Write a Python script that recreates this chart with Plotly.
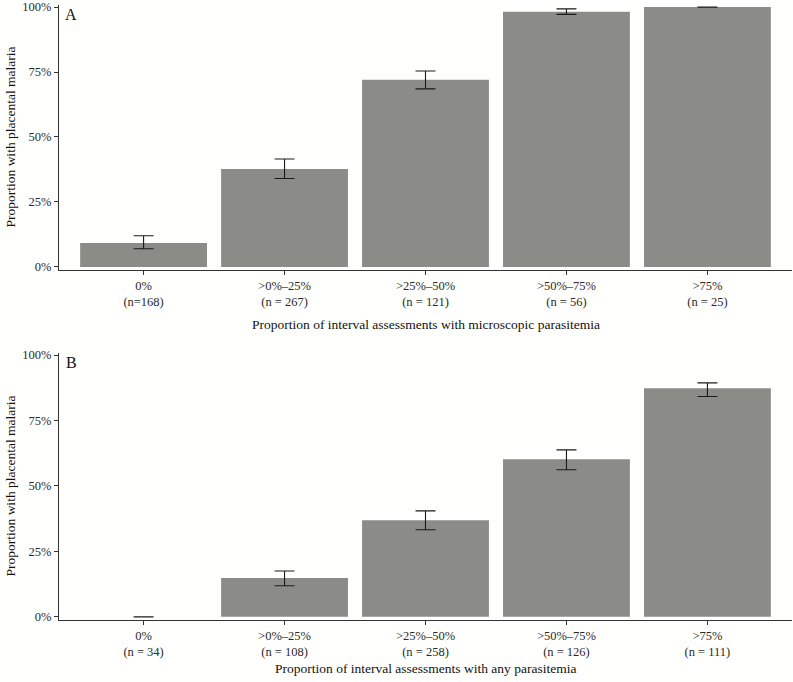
import plotly.graph_objects as go

categories = ["0%", ">0%–25%", ">25%–50%", ">50%–75%", ">75%"]
n_a = ["(n=168)", "(n = 267)", "(n = 121)", "(n = 56)", "(n = 25)"]
n_b = ["(n = 34)", "(n = 108)", "(n = 258)", "(n = 126)", "(n = 111)"]

prop_a = [0.092, 0.377, 0.720, 0.982, 1.000]
lo_a = [0.070, 0.340, 0.685, 0.972, 1.000]
hi_a = [0.120, 0.415, 0.754, 0.993, 1.000]

prop_b = [0.000, 0.148, 0.369, 0.602, 0.873]
lo_b = [0.000, 0.119, 0.333, 0.562, 0.842]
hi_b = [0.000, 0.175, 0.405, 0.638, 0.894]

title_a = "Proportion of interval assessments with microscopic parasitemia"
title_b = "Proportion of interval assessments with any parasitemia"
y_title = "Proportion with placental malaria"

FONT = "Liberation Serif"
BAR = "#8b8b87"
BG = "#fffffd"

fig = go.Figure()

def add_panel(props, lo, hi, xa, ya):
    fig.add_trace(go.Bar(
        x=list(range(len(categories))), y=props,
        marker=dict(color=BAR, line=dict(width=0)),
        width=0.9,
        error_y=dict(type="data", symmetric=False,
                     array=[h - p for h, p in zip(hi, props)],
                     arrayminus=[p - l for p, l in zip(props, lo)],
                     color="#1a1a1a", thickness=1.1, width=10),
        xaxis=xa, yaxis=ya, showlegend=False, hoverinfo="skip"))

add_panel(prop_a, lo_a, hi_a, "x", "y")
add_panel(prop_b, lo_b, hi_b, "x2", "y2")

ax_common = dict(showline=True, linecolor="#333333", linewidth=1,
                 ticks="outside", ticklen=4, tickcolor="#333333",
                 showgrid=False, zeroline=False,
                 tickfont=dict(family=FONT, size=12.5, color="#2a2a2a"))

fig.update_layout(
    width=793, height=682,
    margin=dict(l=59, r=1, t=5, b=62),
    paper_bgcolor=BG, plot_bgcolor=BG,
    font=dict(family=FONT, color="#222222"),
    bargap=0.1,
    xaxis=dict(domain=[0, 1], anchor="y", range=[-0.6, 4.6],
               tickvals=list(range(5)),
               ticktext=[f"{c}<br>{n}" for c, n in zip(categories, n_a)],
               **ax_common),
    yaxis=dict(domain=[0.5691, 1], anchor="x", range=[-0.012, 1.008],
               tickvals=[0, 0.25, 0.5, 0.75, 1.0],
               ticktext=["0%", "25%", "50%", "75%", "100%"],
               **ax_common),
    xaxis2=dict(domain=[0, 1], anchor="y2", range=[-0.6, 4.6],
                tickvals=list(range(5)),
                ticktext=[f"{c}<br>{n}" for c, n in zip(categories, n_b)],
                **ax_common),
    yaxis2=dict(domain=[0, 0.4341], anchor="x2", range=[-0.012, 1.008],
                tickvals=[0, 0.25, 0.5, 0.75, 1.0],
                ticktext=["0%", "25%", "50%", "75%", "100%"],
                **ax_common),
)

H = 615
def py(px):
    return (620 - px) / H

for text, yc in [(title_a, 325), (title_b, 668)]:
    fig.add_annotation(text=text, xref="paper", yref="paper",
                       x=0.5, y=py(yc), showarrow=False,
                       xanchor="center", yanchor="middle",
                       font=dict(family=FONT, size=13.5, color="#111111"))

for yc in [137.5, 486.5]:
    fig.add_annotation(text=y_title, xref="paper", yref="paper",
                       x=(10 - 59) / 733, y=py(yc), showarrow=False,
                       textangle=-90, xanchor="center", yanchor="middle",
                       font=dict(family=FONT, size=13.5, color="#111111"))

for lab, yc in [("A", 14), ("B", 363)]:
    fig.add_annotation(text=lab, xref="paper", yref="paper",
                       x=(71 - 59) / 733, y=py(yc), showarrow=False,
                       xanchor="center", yanchor="middle",
                       font=dict(family=FONT, size=16, color="#111111"))

fig.write_html("out.html",
               config={"displayModeBar": False},
               post_script="document.body.style.margin='0';document.body.style.background='#fffffd';")
